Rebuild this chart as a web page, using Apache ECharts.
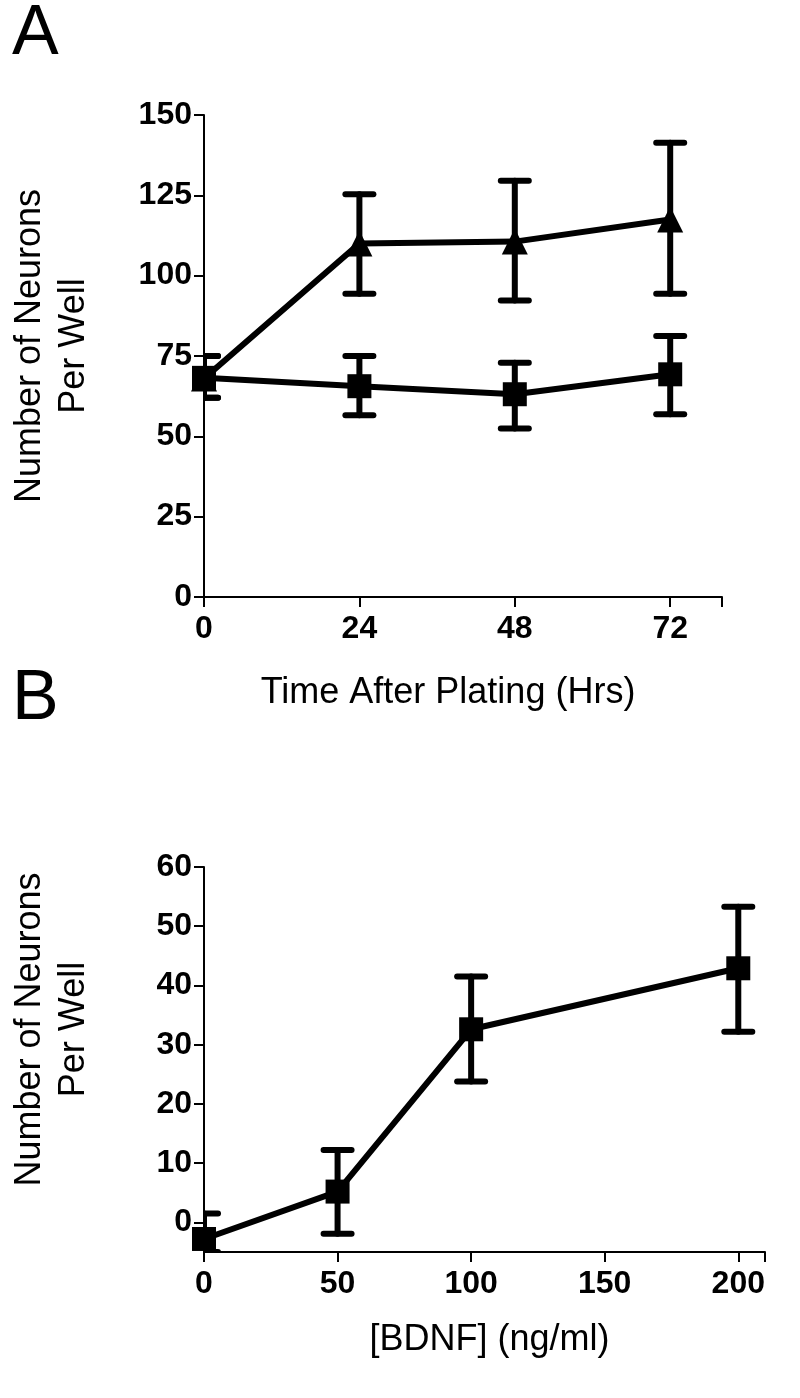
<!DOCTYPE html>
<html><head><meta charset="utf-8">
<script src="https://cdn.jsdelivr.net/npm/echarts@6/dist/echarts.min.js"></script>
<style>body{margin:0;background:#fff}#c{width:800px;height:1398px}</style>
</head><body><div id="c"></div>
<script>
// panel A data
var hoursA = [0, 24, 48, 72];
var triMean = [68, 110, 110.6, 117.5];
var triLow = [62, 94.4, 92.3, 94.4];
var triHigh = [75, 125.3, 129.5, 141.4];
var sqMean = [68.2, 65.6, 63.1, 69.3];
var sqLow = [62, 56.6, 52.4, 56.9];
var sqHigh = [75, 75, 72.9, 81.2];
// panel B data
var bdnf = [0, 50, 100, 200];
var bMean = [-2.8, 5.2, 32.6, 42.9];
var bLow = [-5, -1.9, 23.8, 32.2];
var bHigh = [1.5, 12.2, 41.5, 53.3];
var bTicks = [0, 10, 20, 30, 40, 50, 60];

var dom = document.getElementById('c');
var chart = echarts.init(dom);

function pts(xs, ys) { return xs.map(function (x, i) { return [x, ys[i]]; }); }
function errData(xs, lo, hi) { return xs.map(function (x, i) { return [x, lo[i], hi[i]]; }); }

function errSeries(idx, data) {
    return {
        type: 'custom', xAxisIndex: idx, yAxisIndex: idx, z: 1,
        renderItem: function (params, api) {
            var top = api.coord([api.value(0), api.value(2)]);
            var bot = api.coord([api.value(0), api.value(1)]);
            var w = 14;
            var st = { stroke: '#000', lineWidth: 6, lineCap: 'round' };
            return {
                type: 'group', children: [
                    { type: 'line', shape: { x1: top[0], y1: top[1], x2: bot[0], y2: bot[1] }, style: st },
                    { type: 'line', shape: { x1: top[0] - w, y1: top[1], x2: top[0] + w, y2: top[1] }, style: st },
                    { type: 'line', shape: { x1: bot[0] - w, y1: bot[1], x2: bot[0] + w, y2: bot[1] }, style: st }
                ]
            };
        },
        clip: true,
        data: data
    };
}

function lineSeries(idx, data, sym) {
    return {
        type: 'line', xAxisIndex: idx, yAxisIndex: idx, z: 3,
        symbol: sym, symbolSize: sym === 'triangle' ? 26 : 24, showAllSymbol: true,
        lineStyle: { color: '#000', width: 6 },
        itemStyle: { color: '#000' },
        data: data
    };
}

var tickLbl = { color: '#000', fontFamily: 'Liberation Sans', fontWeight: 'bold', fontSize: 32 };
var titleTxt = { color: '#000', fontFamily: 'Liberation Sans', fontSize: 36, lineHeight: 44 };
function axisCommon() {
    return {
        axisLine: { show: true, onZero: false, lineStyle: { color: '#000', width: 2 } },
        axisTick: { show: true, length: 10, lineStyle: { color: '#000', width: 2 } },
        splitLine: { show: false }
    };
}

var option = {
    backgroundColor: '#fff',
    animation: false,
    grid: [
        { left: 190, top: 115, width: 532, height: 482 },
        { left: 188, top: 867, width: 577, height: 385 }
    ],
    xAxis: [
        Object.assign(axisCommon(), {
            type: 'value', gridIndex: 0, min: 0, max: 80, interval: 24,
            axisLabel: Object.assign({ margin: 16, formatter: function (v) { return v > 72 ? '' : v; } }, tickLbl),
            name: 'Time After Plating (Hrs)', nameLocation: 'middle', nameGap: 74,
            nameTextStyle: Object.assign({ padding: [0, 0, 0, -30] }, titleTxt)
        }),
        Object.assign(axisCommon(), {
            type: 'value', gridIndex: 1, min: 0, max: 210, interval: 50,
            axisLabel: Object.assign({ margin: 16, formatter: function (v) { return v > 200 ? '' : v; } }, tickLbl),
            name: '[BDNF] (ng/ml)', nameLocation: 'middle', nameGap: 66,
            nameTextStyle: Object.assign({ padding: [0, 0, 0, 10] }, titleTxt)
        })
    ],
    yAxis: [
        Object.assign(axisCommon(), {
            type: 'value', gridIndex: 0, min: 0, max: 150, interval: 25,
            axisLabel: Object.assign({ margin: 12 }, tickLbl),
            name: 'Number of Neurons\nPer Well', nameLocation: 'middle', nameGap: 108,
            nameTextStyle: Object.assign({ padding: [0, 0, 0, 20] }, titleTxt)
        }),
        Object.assign(axisCommon(), {
            type: 'value', gridIndex: 1, min: -5, max: 60,
            axisLabel: Object.assign({ margin: 12, customValues: bTicks }, tickLbl),
            axisTick: { show: true, length: 10, lineStyle: { color: '#000', width: 2 }, customValues: bTicks },
            name: 'Number of Neurons\nPer Well', nameLocation: 'middle', nameGap: 108,
            nameTextStyle: Object.assign({ padding: [0, 0, 0, 60] }, titleTxt)
        })
    ],
    graphic: [
        { type: 'text', left: 12, top: 0, style: { text: 'A', font: '70px Liberation Sans', fill: '#000' } },
        { type: 'text', left: 12, top: 665, style: { text: 'B', font: '70px Liberation Sans', fill: '#000' } }
    ],
    series: [
        errSeries(0, errData(hoursA, triLow, triHigh)),
        errSeries(0, errData(hoursA, sqLow, sqHigh)),
        lineSeries(0, pts(hoursA, triMean), 'triangle'),
        lineSeries(0, pts(hoursA, sqMean), 'rect'),
        errSeries(1, errData(bdnf, bLow, bHigh)),
        lineSeries(1, pts(bdnf, bMean), 'rect')
    ]
};
chart.setOption(option);
</script></body></html>
